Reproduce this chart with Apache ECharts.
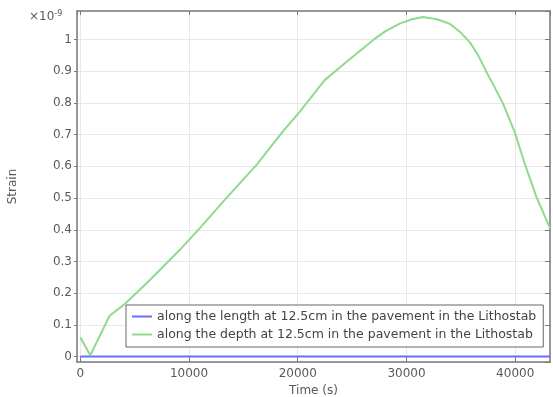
<!DOCTYPE html>
<html>
<head>
<meta charset="utf-8">
<script src="https://cdn.jsdelivr.net/npm/echarts@6/dist/echarts.min.js"></script>
<style>
  html, body { margin: 0; padding: 0; background: #fff; }
  #chart { width: 553px; height: 397px; }
</style>
</head>
<body>
<div id="chart"></div>
<script>
// strain values are in units of 1e-9 (axis shows x10^-9)
const lengthTimes = [0, 10000, 20000, 30000, 43200];
const lengthStrain = [0, 0, 0, 0, 0];

const depthTimes = [0, 920, 2700, 4170, 6500, 9135, 11000, 13120, 16190, 18730,
  20175, 22475, 24500, 26920, 28000, 29375, 30500, 31520, 32800, 33975,
  35000, 35815, 36600, 37350, 38100, 38880, 39950, 40870, 41950, 43200];
const depthStrain = [0.061, 0.004, 0.129, 0.168, 0.245, 0.336, 0.405, 0.488, 0.604, 0.714,
  0.772, 0.872, 0.93, 0.998, 1.025, 1.05, 1.064, 1.071, 1.064, 1.05,
  1.022, 0.992, 0.95, 0.898, 0.85, 0.798, 0.709, 0.609, 0.504, 0.405];

const seriesNames = [
  "along the length at 12.5cm in the pavement in the Lithostab",
  "along the depth at 12.5cm in the pavement in the Lithostab"
];

const zip = (xs, ys) => xs.map((x, i) => [x, ys[i]]);

const font = "DejaVu Sans";
const axisGray = "#7a7a7a";
const labelGray = "#5a5a5a";

const chart = echarts.init(document.getElementById("chart"));

chart.setOption({
  animation: false,
  backgroundColor: "#fff",
  textStyle: { fontFamily: font },
  grid: { left: 77, right: 3, top: 11, bottom: 35, outerBoundsMode: "none", containLabel: false },
  xAxis: [{
    type: "value",
    min: -300, max: 43200, splitNumber: 4,
    name: "Time (s)", nameLocation: "middle", nameGap: 21,
    nameTextStyle: { color: labelGray, fontSize: 12, fontFamily: font },
    axisLine: { onZero: false, lineStyle: { color: axisGray, width: 1.5 } },
    axisTick: { inside: true, length: 5, lineStyle: { color: axisGray } },
    axisLabel: {
      color: labelGray, fontSize: 12, margin: 6,
      showMinLabel: false, showMaxLabel: false,
      formatter: (v) => String(v)
    },
    splitLine: { show: true, lineStyle: { color: "#e8e8e8" } }
  }, {
    type: "value", position: "top",
    min: -300, max: 43200, splitNumber: 4,
    axisLine: { show: true, onZero: false, lineStyle: { color: axisGray, width: 1.5 } },
    axisTick: { inside: true, length: 4, lineStyle: { color: axisGray } },
    axisLabel: { show: false },
    splitLine: { show: false }
  }],
  yAxis: [{
    type: "value",
    min: -0.017, max: 1.09, splitNumber: 11,
    name: "Strain", nameLocation: "middle", nameGap: 58,
    nameTextStyle: { color: labelGray, fontSize: 12, fontFamily: font },
    axisLine: { show: true, onZero: false, lineStyle: { color: axisGray, width: 1.5 } },
    axisTick: { show: true, length: 3, lineStyle: { color: axisGray } },
    axisLabel: {
      color: labelGray, fontSize: 12, margin: 5,
      showMinLabel: false, showMaxLabel: false,
      formatter: (v) => String(Math.round(v * 10) / 10)
    },
    splitLine: { show: true, lineStyle: { color: "#e8e8e8" } }
  }, {
    type: "value", position: "right",
    min: -0.017, max: 1.09, splitNumber: 11,
    axisLine: { show: true, onZero: false, lineStyle: { color: axisGray, width: 1.5 } },
    axisTick: { show: true, inside: true, length: 5, lineStyle: { color: axisGray } },
    axisLabel: { show: false },
    splitLine: { show: false }
  }],
  legend: {
    orient: "vertical",
    left: 126, top: 305,
    padding: [5, 7, 6, 6],
    itemGap: 5,
    itemWidth: 20, itemHeight: 2,
    backgroundColor: "#fff",
    borderColor: "#666", borderWidth: 1,
    textStyle: { color: "#444", fontSize: 12.5, fontFamily: font },
    icon: "rect",
    data: seriesNames
  },
  graphic: [{
    type: "text", left: 29, top: 10,
    style: {
      text: "{a|×10}{b|-9}",
      rich: {
        a: { fontSize: 12, fill: labelGray, fontFamily: font },
        b: { fontSize: 8, fill: labelGray, fontFamily: font, verticalAlign: "top", padding: [0, 0, 6, 0] }
      }
    }
  }],
  series: [{
    name: seriesNames[0], type: "line",
    data: zip(lengthTimes, lengthStrain),
    showSymbol: false, color: "#6b6bff",
    lineStyle: { width: 2, color: "#6b6bff" }
  }, {
    name: seriesNames[1], type: "line",
    data: zip(depthTimes, depthStrain),
    showSymbol: false, smooth: false, color: "#8edb8e",
    lineStyle: { width: 2, color: "#8edb8e" }
  }]
});
</script>
</body>
</html>
